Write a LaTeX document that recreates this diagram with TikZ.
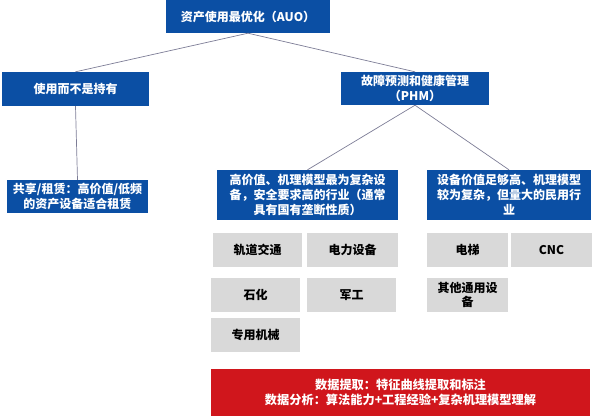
\documentclass[tikz,border=0pt]{standalone}
\usepackage{fontspec}
\setmainfont{Noto Sans CJK SC}
\definecolor{boxblue}{RGB}{11,79,164}
\definecolor{boxgray}{RGB}{217,217,217}
\definecolor{boxred}{RGB}{208,22,28}
\definecolor{linegray}{RGB}{125,125,150}
\tikzset{
  bluebox/.style={fill=boxblue,text=white,inner sep=0pt,align=center,font=\bfseries\fontsize{12}{15}\selectfont},
  graybox/.style={fill=boxgray,text=black,inner sep=0pt,align=center,font=\bfseries\fontsize{12}{14}\selectfont},
  redbox/.style={fill=boxred,text=white,inner sep=0pt,align=center,font=\bfseries\fontsize{12.2}{15}\selectfont},
  conn/.style={draw=linegray,line width=0.7pt}
}
\begin{document}
\begin{tikzpicture}[x=1pt,y=-1pt]
\useasboundingbox (0,0) rectangle (592,416);
\node[bluebox,minimum width=164pt,minimum height=33pt] (top) at (248,16.5) {资产使用最优化（AUO）};
\node[bluebox,minimum width=147pt,minimum height=34pt] (use) at (75.5,89) {使用而不是持有};
\node[bluebox,minimum width=148pt,minimum height=33pt] (phm) at (415,88.5) {故障预测和健康管理\\（PHM）};
\node[bluebox,minimum width=141pt,minimum height=33pt] (share) at (77.5,196.5) {共享/租赁：高价值/低频\\的资产设备适合租赁};
\node[bluebox,minimum width=181pt,minimum height=50pt] (high) at (307.5,195) {高价值、机理模型最为复杂设\\备，安全要求高的行业（通常\\具有国有垄断性质）};
\node[bluebox,minimum width=164pt,minimum height=50pt] (civil) at (509,195) {设备价值足够高、机理模型\\较为复杂，但量大的民用行\\业};
\node[graybox,minimum width=89pt,minimum height=34pt] (rail) at (257.5,250) {轨道交通};
\node[graybox,minimum width=91pt,minimum height=34pt] (power) at (352.5,250) {电力设备};
\node[graybox,minimum width=89pt,minimum height=34pt] (petro) at (255.5,295) {石化};
\node[graybox,minimum width=89pt,minimum height=34pt] (mil) at (351.5,295) {军工};
\node[graybox,minimum width=89pt,minimum height=34pt] (mach) at (255.5,335) {专用机械};
\node[graybox,minimum width=81pt,minimum height=34pt] (lift) at (467.5,250) {电梯};
\node[graybox,minimum width=81pt,minimum height=34pt] (cnc) at (551.5,250) {CNC};
\node[graybox,minimum width=81pt,minimum height=34pt] (other) at (467.5,295) {其他通用设\\备};
\node[redbox,minimum width=379pt,minimum height=47pt] (data) at (400.5,392.5) {数据提取：特征曲线提取和标注\\数据分析：算法能力+工程经验+复杂机理模型理解};
\draw[conn] (top.south) -- (use.north);
\draw[conn] (top.south) -- (phm.north);
\draw[conn] (use.south) -- (share.north);
\draw[conn] (phm.south) -- (high.north);
\draw[conn] (phm.south) -- (civil.north);
\end{tikzpicture}
\end{document}
